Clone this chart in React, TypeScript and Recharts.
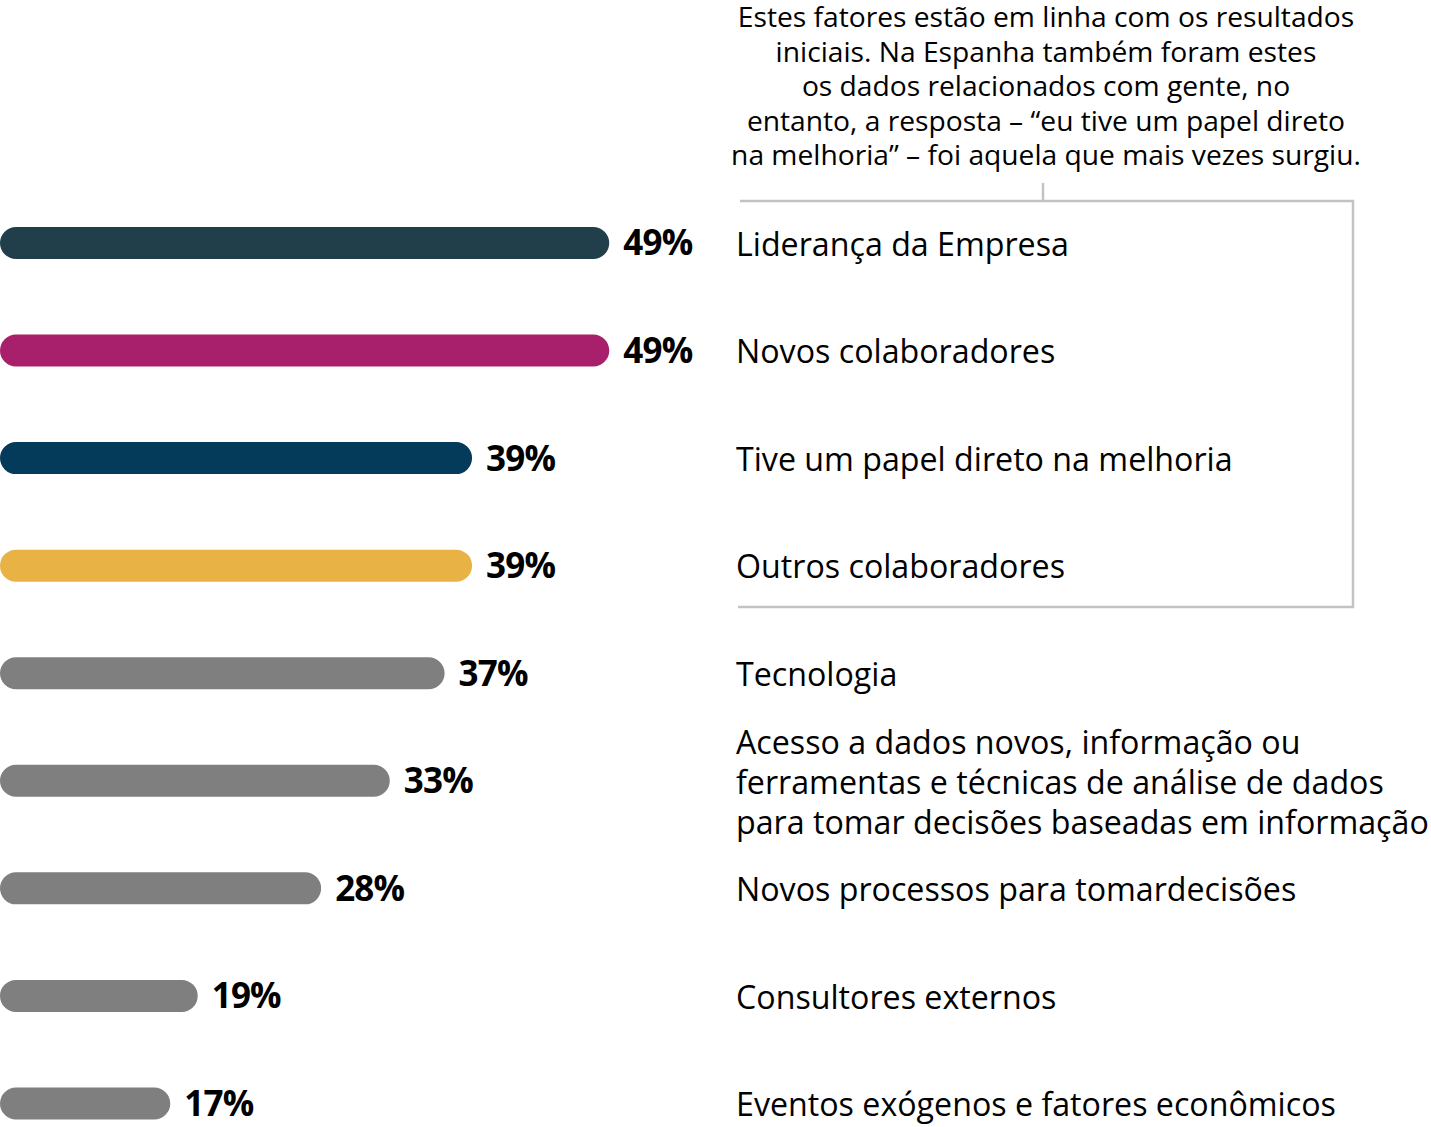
import { BarChart, Bar, XAxis, YAxis, Cell, LabelList } from 'recharts';

const FACTORS = [
  'Liderança da Empresa',
  'Novos colaboradores',
  'Tive um papel direto na melhoria',
  'Outros colaboradores',
  'Tecnologia',
  'Acesso a dados novos, informação ou\nferramentas e técnicas de análise de dados\npara tomar decisões baseadas em informação',
  'Novos processos para tomardecisões',
  'Consultores externos',
  'Eventos exógenos e fatores econômicos',
];
const SHARES = [49, 49, 39, 39, 37, 33, 28, 19, 17];
const BAR_COLORS = ['#213f4a', '#a8206b', '#053b5a', '#e8b245', '#7f7f7f', '#7f7f7f', '#7f7f7f', '#7f7f7f', '#7f7f7f'];
const NOTE_LINES = [
  'Estes fatores estão em linha com os resultados',
  'iniciais. Na Espanha também foram estes',
  'os dados relacionados com gente, no',
  'entanto, a resposta – “eu tive um papel direto',
  'na melhoria” – foi aquela que mais vezes surgiu.',
];

const data = FACTORS.map((name, i) => ({ name, value: SHARES[i] }));

const FONT = '"Open Sans", sans-serif';

function FactorTick({ x, y, payload }: any) {
  const lines = String(payload.value).split('\n');
  const lh = 40;
  const y0 = y - ((lines.length - 1) * lh) / 2;
  return (
    <text x={x} y={y0} fill="#000" fontFamily={FONT} fontSize={32.2} dominantBaseline="central" textAnchor="start">
      {lines.map((l, i) => (
        <tspan key={i} x={x} y={y0 + i * lh} dominantBaseline="central">{l}</tspan>
      ))}
    </text>
  );
}

export default function App() {
  return (
    <div style={{ position: 'absolute', left: 0, top: 0, width: 1431, height: 1127, overflow: 'hidden', background: '#fff' }}>
      <BarChart
        width={1431}
        height={1160}
        data={data}
        layout="vertical"
        barCategoryGap={0}
        margin={{ top: 189, right: 0, bottom: 3, left: 0 }}
      >
        <XAxis type="number" hide domain={[4.59, 58.24]} allowDataOverflow />
        <YAxis
          type="category"
          dataKey="name"
          orientation="right"
          width={695}
          axisLine={false}
          tickLine={false}
          tickSize={0}
          tickMargin={0}
          interval={0}
          tick={<FactorTick />}
        />
        <Bar dataKey="value" barSize={32} radius={16} isAnimationActive={false}>
          {data.map((d, i) => (
            <Cell key={d.name} fill={BAR_COLORS[i]} />
          ))}
          <LabelList
            dataKey="value"
            position="right"
            offset={14}
            formatter={(v: any) => `${v}%`}
            style={{ fontFamily: FONT, fontSize: 35, fontWeight: 700, fill: '#000', letterSpacing: -0.8 }}
          />
        </Bar>
      </BarChart>
      <svg width={1431} height={1127} style={{ position: 'absolute', left: 0, top: 0, pointerEvents: 'none' }}>
        {NOTE_LINES.map((l, i) => (
          <text key={i} x={1046} y={16 + i * 34.6} textAnchor="middle" dominantBaseline="central" fontFamily={FONT} fontSize={28.2} fill="#000">
            {l}
          </text>
        ))}
        <path d="M740 201 H1353 V607 H738" fill="none" stroke="#c3c3c3" strokeWidth={2.5} />
        <path d="M1043 183 V201" fill="none" stroke="#c3c3c3" strokeWidth={2.5} />
      </svg>
    </div>
  );
}
